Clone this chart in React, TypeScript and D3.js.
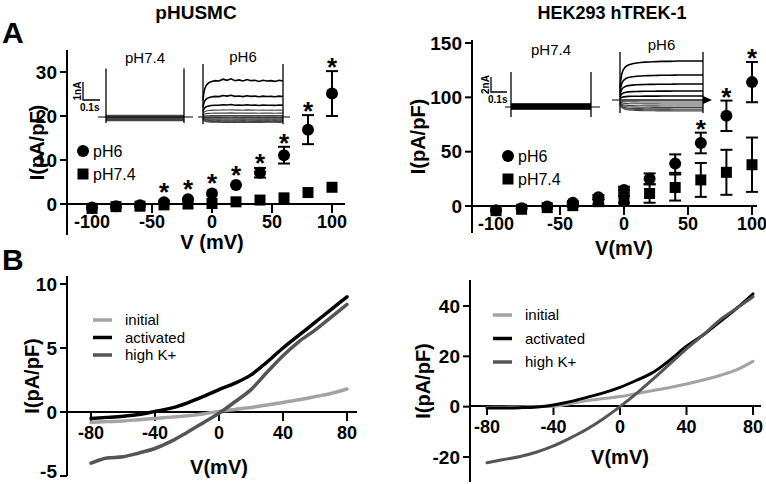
import React from 'react';
import * as d3 from 'd3';

// ---- panel A: I-V summary (mean ± sem)
const volts = [-100, -80, -60, -40, -20, 0, 20, 40, 60, 80, 100];
const husmcPH6 = [-0.8, -0.5, -0.3, 0.4, 1.1, 2.4, 4.3, 7.1, 11.1, 16.9, 25.1];
const husmcPH6Err = [0, 0, 0, 0.2, 0.2, 0.3, 0.4, 1.1, 1.9, 3.3, 5.1];
const husmcPH74 = [-1.0, -0.6, -0.5, -0.2, 0, 0.1, 0.5, 0.9, 1.4, 2.6, 3.8];
const husmcPH74Err = [0, 0, 0, 0, 0, 0, 0, 0, 0, 0, 0];
const husmcStars = [-40, -20, 0, 20, 40, 60, 80, 100];

const hekPH6 = [-4, -2, -0.5, 3, 8, 14.7, 25, 39, 58, 83, 114];
const hekPH6Err = [0, 0, 0.5, 1, 2, 3, 5, 8.5, 9.5, 14, 18.5];
const hekPH74 = [-4.3, -3, -1.5, 0.3, 4, 6, 11.5, 17, 24, 31, 38];
const hekPH74Err = [0, 0, 0.5, 1, 2, 3, 8.5, 12, 15.6, 20.7, 25];
const hekStars = [60, 80, 100];

// ---- inset current traces (nA), steady-state levels per voltage step
const shapeT = [0, 0.004, 0.01, 0.02, 0.035, 0.05, 0.075, 0.1, 0.125, 0.15, 0.175, 0.2, 0.225, 0.25, 0.275, 0.3, 0.325, 0.35, 0.375, 0.4, 0.425, 0.45, 0.475, 0.5];
const husmcShape = [0.45, 0.62, 0.75, 0.85, 0.92, 0.95, 0.98, 0.97, 1.02, 0.99, 1.03, 0.98, 1.0, 0.97, 1.01, 0.98, 0.99, 0.96, 0.99, 0.97, 0.98, 0.96, 0.99, 0.97];
const hekShape = [0.3, 0.5, 0.66, 0.78, 0.86, 0.9, 0.93, 0.95, 0.96, 0.97, 0.975, 0.98, 0.985, 0.99, 0.99, 0.99, 0.995, 1, 1, 1, 1, 1, 1, 1];
const husmcTrace74 = [0.1, 0.07, 0.04, 0.01, -0.02, -0.05, -0.08, -0.11, -0.14, -0.17, -0.2];
const husmcTrace6 = [2.06, 1.17, 0.67, 0.39, 0.22, 0.08, -0.05, -0.11, -0.16, -0.21, -0.26, -0.3];
const hekTrace74 = [0.4, 0.33, 0.27, 0.2, 0.13, 0.07, 0, -0.07, -0.13, -0.2, -0.27];
const hekTrace6 = [5.2, 3.33, 2.13, 1.2, 0.53, 0, -0.27, -0.53, -0.8, -1.0, -1.2, -1.33, -1.47];

// ---- panel B: ramp I-V
const rampV = [-80, -70, -60, -50, -40, -30, -20, -10, 0, 10, 20, 30, 40, 50, 60, 70, 80];
const husmcInitial = [-0.8, -0.75, -0.7, -0.6, -0.5, -0.4, -0.3, -0.15, 0.05, 0.2, 0.35, 0.55, 0.75, 0.95, 1.2, 1.45, 1.8];
const husmcActivated = [-0.5, -0.42, -0.33, -0.2, 0.05, 0.3, 0.7, 1.2, 1.75, 2.25, 2.9, 3.9, 5.0, 6.0, 7.0, 8.0, 9.0];
const husmcHighK = [-4.0, -3.6, -3.5, -3.2, -2.85, -2.3, -1.6, -0.85, -0.1, 0.8, 1.75, 3.1, 4.4, 5.5, 6.4, 7.4, 8.4];
const hekInitial = [-0.3, -0.2, -0.1, 0, 0.2, 1.2, 2.4, 3.2, 4.0, 5.2, 6.4, 7.6, 9.0, 10.6, 12.4, 14.6, 18.0];
const hekActivated = [-0.5, -0.5, -0.4, -0.1, 0.7, 2.0, 3.7, 5.5, 7.7, 10.5, 13.7, 18.5, 24, 28.5, 33.7, 39, 44.8];
const hekHighK = [-22.3, -21, -19.8, -18, -15.6, -12.5, -9, -4.8, 0, 5.3, 11, 17, 23, 28.5, 34.4, 39, 43.7];

const legendB = ['initial', 'activated', 'high K+'];
const colorsB = ['#a3a3a3', '#000000', '#555555'];

const FONT = '"Liberation Sans", Arial, sans-serif';

function Axes({ x, y, axX, axY, xTicks, yTicks, xLen, yLen, xLabelDy, xTitle, xTitleY, yTitleX }: any) {
  return (
    <g fontFamily={FONT} fontWeight="bold" fill="#000">
      <line x1={axX} x2={xLen} y1={axY} y2={axY} stroke="#000" strokeWidth={2} />
      <line x1={axX} x2={axX} y1={yLen[0]} y2={yLen[1]} stroke="#000" strokeWidth={2} />
      {xTicks.map((t: number) => (
        <g key={'x' + t}>
          <line x1={x(t)} x2={x(t)} y1={axY} y2={axY + 9} stroke="#000" strokeWidth={2} />
          <text x={x(t)} y={axY + xLabelDy} textAnchor="middle" fontSize={18}>{t}</text>
        </g>
      ))}
      {yTicks.map((t: number) => (
        <g key={'y' + t}>
          <line x1={axX - 7} x2={axX} y1={y(t)} y2={y(t)} stroke="#000" strokeWidth={2} />
          <text x={axX - 10} y={Math.min(y(t) + 6.5, 478)} textAnchor="end" fontSize={19}>{t}</text>
        </g>
      ))}
      <text x={(x.range()[0] + x.range()[1]) / 2} y={xTitleY} textAnchor="middle" fontSize={20}>{xTitle}</text>
      <text transform={`translate(${yTitleX},${(yLen[0] + yLen[1]) / 2}) rotate(-90)`} textAnchor="middle" fontSize={20} dy={7}>I(pA/pF)</text>
    </g>
  );
}

function IVPanel({ box, ph6, ph6Err, ph74, ph74Err, stars, axX, axY, xEnd, yLen, yTicks, xTitle, xTitleY, yTitleX, legX, legY }: any) {
  const x = d3.scaleLinear(box.xDom, box.xPx);
  const y = d3.scaleLinear(box.yDom, box.yPx);
  const sym = d3.symbol().type(d3.symbolSquare).size(121);
  const errBars = (vals: number[], errs: number[], key: string) =>
    volts.map((v, i) => errs[i] > 0.6 ? (
      <g key={key + v} stroke="#000" strokeWidth={2}>
        <line x1={x(v)} x2={x(v)} y1={y(vals[i] - errs[i])} y2={y(vals[i] + errs[i])} />
        <line x1={x(v) - 6} x2={x(v) + 6} y1={y(vals[i] + errs[i])} y2={y(vals[i] + errs[i])} />
        <line x1={x(v) - 6} x2={x(v) + 6} y1={y(vals[i] - errs[i])} y2={y(vals[i] - errs[i])} />
      </g>
    ) : null);
  return (
    <g>
      <Axes x={x} y={y} axX={axX} axY={axY} xTicks={[-100, -50, 0, 50, 100]} yTicks={yTicks} xLen={xEnd} yLen={yLen}
        xLabelDy={24} xTitle={xTitle} xTitleY={xTitleY} yTitleX={yTitleX} />
      {errBars(ph74, ph74Err, 'e74')}
      {errBars(ph6, ph6Err, 'e6')}
      {volts.map((v, i) => <circle key={'c' + v} cx={x(v)} cy={y(ph6[i])} r={6} fill="#000" />)}
      {volts.map((v, i) => <path key={'s' + v} d={sym() as string} transform={`translate(${x(v)},${y(ph74[i])})`} fill="#000" />)}
      {stars.map((v: number) => {
        const i = volts.indexOf(v);
        const top = Math.min(y(ph6[i] + ph6Err[i]), y(ph6[i]) - 6);
        return <text key={'st' + v} x={x(v)} y={top + 5} textAnchor="middle" fontFamily={FONT} fontWeight="bold" fontSize={26}>*</text>;
      })}
      <g fontFamily={FONT} fontSize={16}>
        <circle cx={legX} cy={legY} r={6} fill="#000" />
        <text x={legX + 10} y={legY + 6}>pH6</text>
        <path d={sym() as string} transform={`translate(${legX},${legY + 23})`} fill="#000" />
        <text x={legX + 10} y={legY + 29}>pH7.4</text>
      </g>
    </g>
  );
}

function Trace({ x0, x1, base, pxPerNA, levels, shape, top, bottom, lx0, lx1, label, labelY, tail, heavy }: any) {
  const t = d3.scaleLinear([0, 0.5], [x0, x1]);
  const c = d3.scaleLinear([0, 1], [base, base - pxPerNA]);
  const line = d3.line<number>().x((_, i) => t(shapeT[i])).y((f) => f);
  return (
    <g fill="none">
      {levels.map((L: number, k: number) => (
        <path key={k} d={line(shape.map((f: number) => c(L * f))) as string}
          stroke={k < heavy ? '#000' : '#444'} strokeWidth={k < heavy ? 1.6 : 1.1} />
      ))}
      <line x1={t(0)} x2={t(0)} y1={c(top)} y2={c(bottom)} stroke="#000" strokeWidth={1.3} />
      <line x1={t(0.5)} x2={t(0.5)} y1={c(top)} y2={c(bottom)} stroke="#000" strokeWidth={1.3} />
      <line x1={lx0} x2={lx1} y1={base} y2={base} stroke="#000" strokeWidth={1.2} />
      {tail ? <path d={`M${t(0.5)},${base - 4}L${t(0.5) + 9},${base}L${t(0.5)},${base + 4}Z`} fill="#000" /> : null}
      <text x={(x0 + x1) / 2} y={labelY} textAnchor="middle" fontFamily={FONT} fontSize={15} fill="#000">{label}</text>
    </g>
  );
}

function ScaleBar({ x, y, w, h, amp }: any) {
  return (
    <g fontFamily={FONT} fontWeight="bold" fontSize={10} fill="#000">
      <path d={`M${x},${y - h}V${y}H${x + w}`} fill="none" stroke="#000" strokeWidth={1.3} />
      <text transform={`translate(${x - 2},${y - h / 2}) rotate(-90)`} textAnchor="middle">{amp}</text>
      <text x={x - 3} y={y + 11}>0.1s</text>
    </g>
  );
}

function RampPanel({ box, curves, axX, axY, xEnd, yLen, yTicks, xTitleY, yTitleX, legX, legY, legGap, sw }: any) {
  const x = d3.scaleLinear(box.xDom, box.xPx);
  const y = d3.scaleLinear(box.yDom, box.yPx);
  const line = d3.line<number>().x((_, i) => x(rampV[i])).y((v) => y(v)).curve(d3.curveMonotoneX);
  return (
    <g>
      <Axes x={x} y={y} axX={axX} axY={axY} xTicks={[-80, -40, 0, 40, 80]} yTicks={yTicks} xLen={xEnd} yLen={yLen}
        xLabelDy={27} xTitle="V(mV)" xTitleY={xTitleY} yTitleX={yTitleX} />
      {curves.map((c: number[], k: number) => (
        <path key={k} d={line(c) as string} fill="none" stroke={colorsB[k]} strokeWidth={sw} strokeLinecap="round" />
      ))}
      {legendB.map((name, k) => (
        <g key={name}>
          <line x1={legX} x2={legX + 19} y1={legY + k * legGap} y2={legY + k * legGap} stroke={colorsB[k]} strokeWidth={3.5} />
          <text x={legX + 32} y={legY + k * legGap + 5} fontFamily={FONT} fontSize={15}>{name}</text>
        </g>
      ))}
    </g>
  );
}

export default function App() {
  return (
    <svg width={766} height={484} style={{ position: 'absolute', left: 0, top: 0, background: '#fff' }}>
      <g fontFamily={FONT} fontWeight="bold">
        <text x={2} y={43} fontSize={30}>A</text>
        <text x={2} y={270} fontSize={30}>B</text>
        <text x={196} y={19} fontSize={19} textAnchor="middle">pHUSMC</text>
        <text x={612} y={19} fontSize={18} textAnchor="middle">HEK293 hTREK-1</text>
      </g>

      <IVPanel box={{ xDom: [-100, 100], xPx: [92, 332], yDom: [0, 30], yPx: [204, 72] }}
        ph6={husmcPH6} ph6Err={husmcPH6Err} ph74={husmcPH74} ph74Err={husmcPH74Err} stars={husmcStars}
        axX={67} axY={204} xEnd={345} yLen={[50, 235]} yTicks={[0, 10, 20, 30]}
        xTitle="V (mV)" xTitleY={249} yTitleX={37} legX={83} legY={151} />
      <IVPanel box={{ xDom: [-100, 100], xPx: [496, 752], yDom: [0, 150], yPx: [206, 43] }}
        ph6={hekPH6} ph6Err={hekPH6Err} ph74={hekPH74} ph74Err={hekPH74Err} stars={hekStars}
        axX={472} axY={206} xEnd={757} yLen={[40, 233]} yTicks={[0, 50, 100, 150]}
        xTitle="V(mV)" xTitleY={255} yTitleX={418} legX={508} legY={156} />

      <Trace x0={106} x1={184} base={117} pxPerNA={18} levels={husmcTrace74} shape={husmcShape.map(() => 1)}
        top={2.7} bottom={-0.33} lx0={98} lx1={193} label="pH7.4" labelY={63} heavy={0} />
      <Trace x0={203} x1={283} base={117} pxPerNA={18} levels={husmcTrace6} shape={husmcShape}
        top={2.94} bottom={-0.4} lx0={198} lx1={290} label="pH6" labelY={62} heavy={3} />
      <ScaleBar x={83} y={100} w={17} h={18} amp="1nA" />

      <Trace x0={511} x1={591} base={107} pxPerNA={7.5} levels={hekTrace74} shape={hekShape.map(() => 1)}
        top={4.67} bottom={-1.33} lx0={505} lx1={600} label="pH7.4" labelY={55} heavy={11} />
      <Trace x0={620} x1={703} base={100} pxPerNA={7.5} levels={hekTrace6} shape={hekShape}
        top={6.4} bottom={-1.73} lx0={612} lx1={708} label="pH6" labelY={50} tail heavy={5} />
      <ScaleBar x={491} y={92} w={16} h={15} amp="2nA" />

      <RampPanel box={{ xDom: [-80, 80], xPx: [91, 347], yDom: [-5, 10], yPx: [476, 284] }}
        curves={[husmcInitial, husmcActivated, husmcHighK]} axX={67} axY={412} xEnd={357} yLen={[276, 476]}
        yTicks={[-5, 0, 5, 10]} xTitleY={474} yTitleX={32} legX={93} legY={320} legGap={17.5} sw={3.5} />
      <RampPanel box={{ xDom: [-80, 80], xPx: [487, 753], yDom: [-20, 40], yPx: [457, 306] }}
        curves={[hekInitial, hekActivated, hekHighK]} axX={470} axY={406} xEnd={761} yLen={[280, 482]}
        yTicks={[-20, 0, 20, 40]} xTitleY={464} yTitleX={423} legX={493} legY={315} legGap={23.5} sw={3} />
    </svg>
  );
}
